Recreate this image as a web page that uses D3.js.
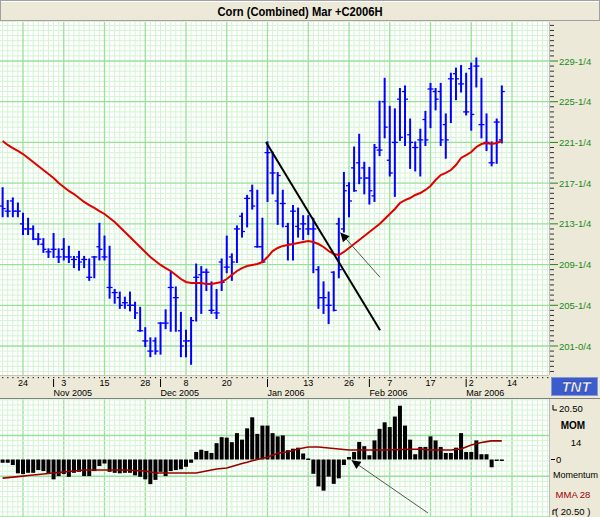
<!DOCTYPE html>
<html><head><meta charset="utf-8">
<script src="https://cdn.jsdelivr.net/npm/d3@7"></script>
<style>body{margin:0;background:#fff}svg{display:block}</style>
</head><body><svg id="c" width="600" height="517"></svg>
<script>
// ---------- DATA ----------
const title = "Corn (Combined) Mar +C2006H";
const firstIndex = -4; // bar index of first bar (index 0 = 24 Oct 2005)
const highs = [216.75,215.5,215.75,215.25,214.25,213.75,213,212.25,211.75,210.75,212.25,210.75,211.75,211,210,210.5,210,209.75,210,213.25,212,211,206.75,206.5,206,206.5,205.5,205,203,202,202,203.5,204.75,208.5,207,204.5,202.75,204,209.25,209,208.75,207.5,206.75,209.75,212,210.25,213,214.25,216,217,216.5,213.75,221.25,220.25,218.25,216.5,213.25,215,214.75,214,214,213.75,209,207.5,206.5,208.5,213.75,218.25,217.25,220.75,222,219.25,218.75,221,225.25,227.5,224.75,224.5,226.5,226.75,223.5,221.25,222.5,224.25,227,226.5,227,224,228,228.5,228.75,228,229,229.5,227.5,224,221.25,223.5,226.75];
const lows = [214,214,214,214,212.25,212.25,211.75,211.25,210.5,210,210,209.5,209.75,209.5,209,208.75,209,207.75,208,209.75,209.75,206,205.5,205,205,204.75,204,202.75,201.25,200.25,200.5,200.5,203,202.75,202.75,200.25,200.25,199.5,203.75,204.5,206.75,204.5,204,206.75,208.5,207.75,209.5,212,213,214.75,211,209.5,215.5,216.25,213.25,213,209.75,209.75,212,211.75,212.25,208.5,205,204.5,203.5,204.75,208,212.5,214,216.5,217.25,216.25,215.25,215.5,220,221.75,218,216,221.5,221,218.75,218.5,218,221,222.75,224.5,221,219.75,223.25,225.5,226.25,224,222.5,226.75,221.75,220.5,219,219.25,221.25];
const opens = [215,214.5,215.5,214.5,213.25,212.75,212.75,211.75,211.25,210.5,210.75,210,210.75,210,209.75,210,209.75,208,210,211,210,207,206.5,206,205.5,205.25,205.25,202.75,201.75,200.75,201.75,203.5,203.5,207,206,202.75,201.75,201.75,208,208.25,208.5,204.75,204.5,209.5,209,210,212.75,214,215.75,216.5,211,211,220.25,218.25,215.5,215.25,213,214.5,213,213.25,212.75,212.75,208.75,206,205.25,208.5,213.25,212.75,217,218.75,219.25,218.75,217.75,216,220.5,225.25,219.5,221.25,225.5,226.25,222,220.75,221.5,223.5,226.5,226.25,226.25,223,227.5,228,227,224.25,228.5,228.75,223,221.25,219.25,223.25,221.5];
const closes = [214.75,214.5,214.5,214.5,212.75,212.75,211.75,211.75,210.75,210.5,210.75,210,210,210,209.75,209.5,209.75,208,210,210.75,210,207,206.5,205.25,205.5,205.25,204.5,202.75,201.75,200.75,200.75,203.5,203.5,207,206,201.25,201.75,203.75,208,208.5,208.5,204.75,204.5,207.5,209,209.5,212.75,212.5,215.75,215,211,209.5,220.25,218.25,218,215.25,211.25,214.5,212.75,213.25,212.75,212.75,206,206,205.25,204.75,208.75,216.5,215.5,216.5,217.75,217.75,216.5,220.75,220.5,222.75,218.25,221.25,221.75,225.5,221.25,220.75,221.5,221.5,226.5,225.5,221.5,221.5,227.5,227.5,227,224.25,224,228.75,223,221.25,219.25,223.25,226.25];
const movingAvg = [221.39,221.0,220.70,220.41,220.11,219.72,219.33,218.93,218.54,218.15,217.76,217.26,216.87,216.48,216.18,215.79,215.40,215.10,214.81,214.51,214.22,213.83,213.43,212.94,212.45,211.96,211.47,210.98,210.49,209.99,209.60,209.21,208.91,208.62,208.23,207.83,207.54,207.44,207.44,207.44,207.34,207.34,207.44,207.54,207.83,208.23,208.62,208.91,209.11,209.21,209.31,209.50,209.99,210.58,210.88,211.08,211.17,211.27,211.37,211.47,211.57,211.47,211.27,210.98,210.58,210.29,210.19,210.49,210.88,211.27,211.66,212.06,212.45,212.84,213.24,213.73,214.22,214.71,215.30,215.59,215.79,216.09,216.28,216.58,216.97,217.56,218.05,218.25,218.54,219.03,219.72,220.01,220.31,220.80,221.09,221.19,221.09,221.19,221.39];
const momentum = [-1.3,-1.3,-2.2,-5.5,-5.8,-5.3,-5.3,-4.2,-4.6,-5.5,-7.9,-6.6,-5.8,-6.9,-5.3,-4.9,-6.6,-6.6,-4.6,-2.6,-1.6,-4.9,-5.3,-5.5,-5.3,-5.3,-6.3,-6.9,-7.9,-9.8,-8.1,-4.9,-6.6,-4.6,-4.2,-3.9,-2.9,-1.3,3.0,3.9,3.4,2.6,6.5,8.9,8.7,6.9,10.5,7.9,12.4,16.8,10.2,13.5,13.5,10.5,9.2,9.6,3.7,4.3,4.7,2.4,0.4,-5.7,-10.7,-12.4,-6.8,-9.7,-7.5,-2.2,1.0,3.0,7.0,5.3,1.7,7.6,12.2,14.8,12.9,17.1,21.4,13.5,7.9,2.1,5.0,5.0,9.2,7.6,5.0,2.6,2.6,4.7,10.5,3.0,3.0,7.6,2.1,2.1,-3.1,-0.4,-0.4];
const momAvg = [-7.4,-7.2,-7.0,-6.8,-6.6,-6.4,-6.2,-6.0,-5.8,-5.6,-5.4,-5.2,-5.0,-4.8,-4.6,-4.4,-4.2,-4.2,-4.2,-4.2,-4.2,-4.2,-4.2,-4.2,-4.2,-4.3,-4.4,-4.5,-4.6,-5.0,-5.4,-5.4,-5.4,-5.4,-5.4,-5.4,-5.4,-5.4,-5.4,-5.0,-4.6,-4.2,-3.8,-3.6,-3.4,-2.8,-2.2,-1.6,-1.1,-0.5,0,0.5,0.9,1.7,2.5,2.8,3.0,3.6,4.2,4.6,5.0,5.0,5.0,4.8,4.6,4.4,4.2,4.0,3.8,3.8,3.8,3.8,3.8,3.8,3.8,3.8,3.9,3.9,4.0,4.0,4.1,4.1,4.2,4.0,3.8,3.8,3.8,3.8,3.8,4.0,4.2,5.0,5.8,6.3,6.8,7.1,7.4,7.4,7.4];

const priceTicks = [229.25,225.25,221.25,217.25,213.25,209.25,205.25,201.25];
const priceTickLabels = ["229-1/4","225-1/4","221-1/4","217-1/4","213-1/4","209-1/4","205-1/4","201-0/4"];
const dayTickIdx = [0,8,16,24,32,40,56,64,72,80,88,96];
const dayTickLabels = ["24","3","15","28","8","20","13","26","7","17","2","14"];
const monthTickIdx = [6,27,48,68,87];
const monthLabels = ["Nov 2005","Dec 2005","Jan 2006","Feb 2006","Mar 2006"];
const momMax = 20.5;
const trendLine = [[47.7,221.3],[70.1,202.8]];     // [bar index, price]
const priceArrow = [[70.1,208.0],[62.3,212.4]];
const momArrow = [[79.5,-21.3],[64.5,-0.3]];      // [bar index, momentum]

// ---------- LAYOUT ----------
const W=600,H=517, PR=549, PT=22, PB=375, AXB=398, MT=399, MB=517;
const svg=d3.select("#c");
const beige="#ECE9D8";
const x=d3.scaleLinear().domain([0,96]).range([23,512]);
const y=d3.scaleLinear().domain([201.25,229.25]).range([346,61]);
const ym=d3.scaleLinear().domain([-momMax,momMax]).range([511,408]);
const bars=highs.map((h,k)=>({i:firstIndex+k,h,l:lows[k],o:opens[k],c:closes[k],ma:movingAvg[k],m:momentum[k],mm:momAvg[k]}));

const defs=svg.append("defs");
defs.append("clipPath").attr("id","cp").append("rect").attr("x",0).attr("y",PT).attr("width",PR).attr("height",PB-PT);
defs.append("clipPath").attr("id","cm").append("rect").attr("x",0).attr("y",MT).attr("width",PR).attr("height",MB-MT);
const mk=defs.append("marker").attr("id","ah").attr("viewBox","0 0 10 10").attr("refX",10).attr("refY",5)
 .attr("markerWidth",12).attr("markerHeight",9).attr("markerUnits","userSpaceOnUse").attr("orient","auto");
mk.append("path").attr("d","M0,0L10,5L0,10z").attr("fill","#000");

// backgrounds
svg.append("rect").attr("width",W).attr("height",H).attr("fill",beige);
svg.append("rect").attr("x",0).attr("y",PT).attr("width",PR).attr("height",PB-PT).attr("fill","#fff");
svg.append("rect").attr("x",0).attr("y",MT).attr("width",PR).attr("height",MB-MT).attr("fill","#fff");

const minorC="#d3f3d3", majorC="#98e298";
// main grid
const gm=svg.append("g").attr("clip-path","url(#cp)");
const vIdx=d3.range(-8,106);
gm.selectAll(".vmin").data(vIdx.filter(i=>i%8!==0)).join("line")
 .attr("x1",i=>x(i)).attr("x2",i=>x(i)).attr("y1",PT).attr("y2",PB).attr("stroke",minorC).attr("stroke-width",1);
const hVals=d3.range(196.25,234.5,0.5);
gm.selectAll(".hmin").data(hVals.filter(v=>((v-201.25)%4+4)%4!==0)).join("line")
 .attr("x1",0).attr("x2",PR).attr("y1",v=>y(v)).attr("y2",v=>y(v)).attr("stroke",minorC);
gm.selectAll(".vmaj").data(vIdx.filter(i=>i%8===0)).join("line")
 .attr("x1",i=>x(i)).attr("x2",i=>x(i)).attr("y1",PT).attr("y2",PB).attr("stroke",majorC).attr("stroke-width",1.3);
gm.selectAll(".hmaj").data(hVals.filter(v=>((v-201.25)%4+4)%4===0)).join("line")
 .attr("x1",0).attr("x2",PR).attr("y1",v=>y(v)).attr("y2",v=>y(v)).attr("stroke",majorC).attr("stroke-width",1.3);

// momentum grid (pixel grid continuing the cell size)
const cell=(x(8)-x(0))/8;
const gmm=svg.append("g").attr("clip-path","url(#cm)");
const mh=d3.range(-10,30).map(k=>({py:435.5+ (k-8)*cell, maj:(k%8===0)}));
gmm.selectAll(".vm").data(vIdx).join("line")
 .attr("x1",i=>x(i)).attr("x2",i=>x(i)).attr("y1",MT).attr("y2",MB)
 .attr("stroke",i=>i%8===0?majorC:minorC).attr("stroke-width",i=>i%8===0?1.3:1);
gmm.selectAll(".hm").data(mh.filter(d=>!d.maj)).join("line")
 .attr("x1",0).attr("x2",PR).attr("y1",d=>d.py).attr("y2",d=>d.py).attr("stroke",minorC);
gmm.selectAll(".hM").data(mh.filter(d=>d.maj)).join("line")
 .attr("x1",0).attr("x2",PR).attr("y1",d=>d.py).attr("y2",d=>d.py).attr("stroke",majorC).attr("stroke-width",1.3);

// price bars
const gp=svg.append("g").attr("clip-path","url(#cp)");
gp.selectAll(".hl").data(bars).join("line")
 .attr("x1",d=>x(d.i)).attr("x2",d=>x(d.i)).attr("y1",d=>y(d.h)-1).attr("y2",d=>y(d.l)+1)
 .attr("stroke","#0000ff").attr("stroke-width",2);
gp.selectAll(".op").data(bars).join("line")
 .attr("x1",d=>x(d.i)-3).attr("x2",d=>x(d.i)).attr("y1",d=>y(d.o)).attr("y2",d=>y(d.o))
 .attr("stroke","#0000ff").attr("stroke-width",1.3);
gp.selectAll(".cl").data(bars).join("line")
 .attr("x1",d=>x(d.i)).attr("x2",d=>x(d.i)+3).attr("y1",d=>y(d.c)).attr("y2",d=>y(d.c))
 .attr("stroke","#0000ff").attr("stroke-width",1.3);
// moving average
gp.append("path").datum(bars).attr("fill","none").attr("stroke","#e00000").attr("stroke-width",2)
 .attr("d",d3.line().x(d=>x(d.i)).y(d=>y(d.ma)));
// trend line + arrow
gp.append("line").attr("x1",x(trendLine[0][0])).attr("y1",y(trendLine[0][1])).attr("x2",x(trendLine[1][0])).attr("y2",y(trendLine[1][1]))
 .attr("stroke","#000").attr("stroke-width",2);
gp.append("line").attr("x1",x(priceArrow[0][0])).attr("y1",y(priceArrow[0][1])).attr("x2",x(priceArrow[1][0])).attr("y2",y(priceArrow[1][1]))
 .attr("stroke","#555").attr("stroke-width",1).attr("marker-end","url(#ah)");

// momentum
const gmo=svg.append("g").attr("clip-path","url(#cm)");
gmo.selectAll(".mb").data(bars).join("rect")
 .attr("x",d=>x(d.i)-2).attr("width",4)
 .attr("y",d=>Math.min(ym(d.m),ym(0))).attr("height",d=>Math.max(1.5,Math.abs(ym(d.m)-ym(0))))
 .attr("fill","#000");
gmo.append("path").datum(bars).attr("fill","none").attr("stroke","#9b0000").attr("stroke-width",1.6)
 .attr("d",d3.line().x(d=>x(d.i)).y(d=>ym(d.mm)));
gmo.append("line").attr("x1",x(momArrow[0][0])).attr("y1",ym(momArrow[0][1])).attr("x2",x(momArrow[1][0])).attr("y2",ym(momArrow[1][1]))
 .attr("stroke","#555").attr("stroke-width",1).attr("marker-end","url(#ah)");

// title bar
svg.append("rect").attr("x",0.5).attr("y",0.5).attr("width",W-1).attr("height",PT-2).attr("fill",beige).attr("stroke","#a0a0a0");
svg.append("line").attr("x1",1).attr("x2",W-1).attr("y1",1.5).attr("y2",1.5).attr("stroke","#fff");
svg.append("text").attr("x",300).attr("y",15.5).attr("text-anchor","middle")
 .attr("font-family","'Liberation Sans',Arial,sans-serif").attr("font-weight","bold").attr("font-size",13)
 .attr("textLength",165).attr("lengthAdjust","spacingAndGlyphs")
 .attr("fill","#000").text(title);

// right price axis
const ga=svg.append("g");
ga.append("line").attr("x1",PR+0.5).attr("x2",PR+0.5).attr("y1",PT).attr("y2",PB).attr("stroke","#bbb");
ga.selectAll(".mt").data(hVals.filter(v=>y(v)>PT+1&&y(v)<PB-1)).join("line")
 .attr("x1",PR+1).attr("x2",v=>((v-201.25)%4+4)%4===0?PR+9:PR+5).attr("y1",v=>y(v)).attr("y2",v=>y(v))
 .attr("stroke",v=>((v-201.25)%4+4)%4===0?"#1a8a1a":"#333").attr("stroke-width",1);
ga.selectAll(".pl").data(priceTicks).join("text").attr("x",PR+10).attr("y",v=>y(v)+3.5)
 .attr("font-family","'Liberation Sans',Arial,sans-serif").attr("font-size",9.5).attr("fill","#1a8a1a")
 .text((v,k)=>priceTickLabels[k]);

// x axis band
svg.append("rect").attr("x",0).attr("y",PB).attr("width",W).attr("height",AXB-PB).attr("fill",beige);
svg.append("line").attr("x1",0).attr("x2",W).attr("y1",AXB+0.5).attr("y2",AXB+0.5).attr("stroke","#808080");
svg.append("line").attr("x1",0).attr("x2",PR).attr("y1",PB+0.5).attr("y2",PB+0.5).attr("stroke","#c8c4b0");
const gx=svg.append("g").attr("font-family","'Liberation Sans',Arial,sans-serif").attr("font-size",9);
gx.selectAll(".dot").data(d3.range(-4,105)).join("rect").attr("x",i=>x(i)-0.5).attr("y",PB+2).attr("width",1.2).attr("height",1.2).attr("fill","#222");
gx.selectAll(".dl").data(dayTickIdx).join("text").attr("x",i=>x(i)).attr("y",PB+11).attr("text-anchor","middle")
 .attr("fill","#000").text((i,k)=>dayTickLabels[k]);
gx.selectAll(".mtk").data(monthTickIdx).join("line").attr("x1",i=>x(i)).attr("x2",i=>x(i)).attr("y1",PB+4).attr("y2",PB+12)
 .attr("stroke","#000").attr("stroke-width",1);
gx.selectAll(".ml").data(monthTickIdx).join("text").attr("x",i=>x(i)).attr("y",PB+21)
 .attr("fill","#000").text((i,k)=>monthLabels[k]);

// TNT logo
const lg=svg.append("g");
lg.append("rect").attr("x",551.5).attr("y",377.5).attr("width",46).attr("height",18).attr("fill","#3a5ccc").attr("stroke","#8899cc");
lg.append("text").attr("x",576).attr("y",392).attr("text-anchor","middle").attr("font-family","'Liberation Sans',Arial,sans-serif")
 .attr("font-weight","bold").attr("font-style","italic").attr("font-size",15).attr("fill","#fff").attr("stroke","#1a2a80").attr("stroke-width",0.4).text("TNT");

// momentum right panel labels
const gr=svg.append("g").attr("font-family","'Liberation Sans',Arial,sans-serif");
gr.append("line").attr("x1",PR+0.5).attr("x2",PR+0.5).attr("y1",MT).attr("y2",MB).attr("stroke","#bbb");
gr.append("path").attr("d",`M${PR+4},${ym(momMax)-3}V${ym(momMax)+2}H${PR+8}`).attr("fill","none").attr("stroke","#000");
gr.append("text").attr("x",PR+10).attr("y",ym(momMax)+4).attr("font-size",9.5).text(momMax.toFixed(2));
gr.append("text").attr("x",573).attr("y",429).attr("text-anchor","middle").attr("font-size",10).attr("font-weight","bold").text("MOM");
gr.append("text").attr("x",576).attr("y",446).attr("text-anchor","middle").attr("font-size",9.5).text("14");
gr.append("line").attr("x1",PR+2).attr("x2",PR+6).attr("y1",ym(0)).attr("y2",ym(0)).attr("stroke","#000");
gr.append("text").attr("x",PR+7).attr("y",ym(0)+3.5).attr("font-size",9.5).text("0");
gr.append("text").attr("x",PR+4).attr("y",478).attr("font-size",9).attr("textLength",45).attr("lengthAdjust","spacingAndGlyphs").text("Momentum");
gr.append("text").attr("x",573).attr("y",498).attr("text-anchor","middle").attr("font-size",9.5).attr("fill","#9b0000").text("MMA 28");
gr.append("path").attr("d",`M${PR+4},${ym(-momMax)+4}V${ym(-momMax)-1}H${PR+8}`).attr("fill","none").attr("stroke","#000");
gr.append("text").attr("x",PR+6).attr("y",ym(-momMax)+4).attr("font-size",9.5).text("( "+momMax.toFixed(2)+" )");
</script></body></html>
